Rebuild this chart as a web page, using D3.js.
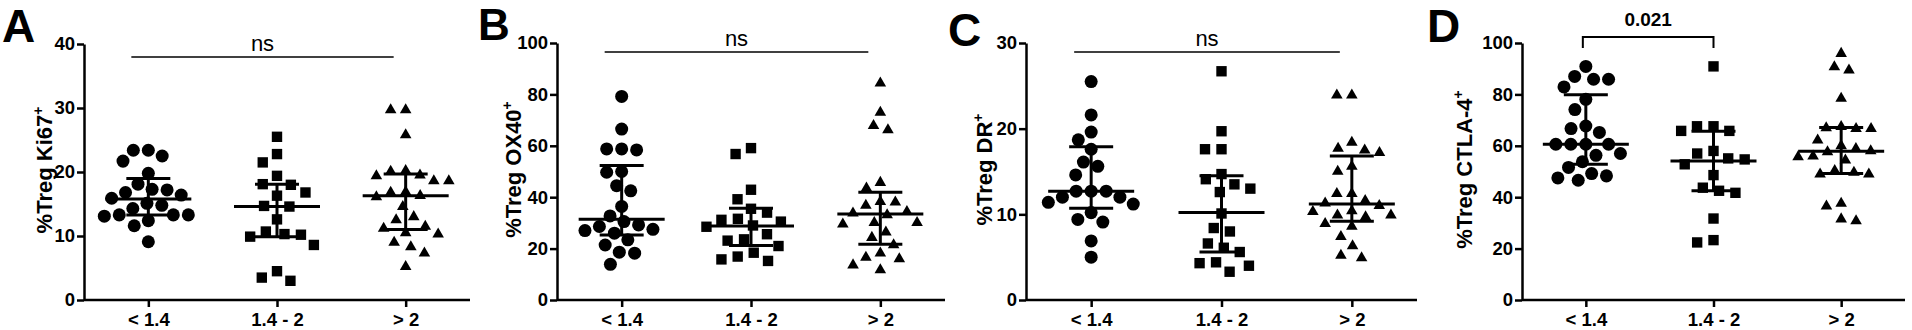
<!DOCTYPE html>
<html>
<head>
<meta charset="utf-8">
<script src="https://cdn.jsdelivr.net/npm/d3@7"></script>
<style>
  body { margin: 0; background: #fff; }
  svg { display: block; font-family: "Liberation Sans", Arial, sans-serif; }
</style>
</head>
<body>
<svg id="chart" width="1912" height="330"></svg>
<script>
let groups = ["< 1.4", "1.4 - 2", "> 2"];

// values, one array per group
let ki67_low  = [23.4, 23.4, 22.5, 21.7, 19.8, 18.1, 17.2, 17.3, 16.8, 16.4, 15.1, 14.8, 15.9, 14.3, 13.3, 13.1, 12.4, 13.3, 13.3, 11.6, 9.1];
let ki67_mid  = [25.5, 22.8, 21.5, 19.4, 18.1, 18.0, 16.8, 16.3, 14.6, 14.7, 12.6, 9.9, 10.2, 10.7, 10.3, 8.6, 4.5, 3.5, 3.0];
let ki67_high = [29.7, 29.7, 25.8, 19.4, 18.6, 18.6, 20.1, 20.2, 19.5, 16.8, 16.1, 16.9, 16.3, 14.6, 13.0, 12.5, 11.5, 11.2, 10.3, 10.5, 9.0, 8.3, 7.3, 5.2];

let ox40_low  = [79.2, 66.5, 58.4, 58.8, 58.8, 50.0, 49.7, 44.5, 42.5, 36.4, 32.7, 29.2, 30.5, 28.6, 27.0, 27.5, 26.0, 23.4, 21.4, 18.6, 18.2, 13.9];
let ox40_mid  = [59.1, 56.8, 42.9, 39.2, 35.5, 34.0, 31.2, 31.6, 29.0, 30.5, 28.5, 25.6, 23.6, 23.1, 21.0, 18.4, 16.9, 15.8, 15.2];
let ox40_high = [84.4, 73.0, 66.2, 67.8, 45.7, 43.5, 38.1, 38.3, 36.8, 34.4, 33.1, 33.8, 29.5, 30.1, 30.1, 26.4, 24.3, 21.4, 16.6, 18.2, 16.0, 13.6, 11.7];

let dr_low  = [25.5, 21.6, 19.6, 18.7, 17.6, 16.1, 15.6, 14.6, 12.7, 12.7, 12.7, 12.0, 12.0, 11.2, 11.4, 10.2, 9.4, 9.1, 6.9, 5.0];
let dr_mid  = [26.7, 19.7, 17.6, 17.6, 14.1, 14.7, 13.5, 13.0, 12.6, 10.1, 8.4, 8.0, 6.6, 6.1, 5.6, 4.4, 4.3, 4.0, 3.3];
let dr_high = [23.9, 23.9, 18.4, 17.5, 17.7, 17.2, 15.6, 15.0, 12.4, 12.4, 11.6, 11.0, 11.3, 10.3, 10.4, 9.9, 9.9, 9.7, 8.6, 8.9, 7.4, 6.3, 5.2, 4.9];

let ctla4_low  = [90.9, 85.9, 87.0, 85.9, 82.9, 78.1, 74.1, 66.7, 67.7, 65.2, 60.6, 60.6, 60.6, 60.6, 57.0, 56.3, 53.8, 51.6, 49.2, 48.3, 47.5, 46.6];
let ctla4_mid  = [90.9, 67.6, 67.6, 65.8, 65.8, 58.0, 57.0, 52.8, 55.1, 54.7, 48.6, 43.7, 42.5, 41.7, 31.7, 23.3, 22.4];
let ctla4_high = [95.9, 90.7, 89.4, 78.4, 66.7, 66.7, 67.4, 67.0, 62.2, 58.9, 57.6, 60.0, 58.0, 55.7, 56.0, 54.4, 49.0, 49.0, 50.3, 49.6, 36.5, 37.6, 31.5, 30.8];

// median, lower, upper of the error bars as drawn
let ki67_bars  = [[15.8, 13.3, 19.0], [14.6, 9.9, 18.1], [16.3, 11.0, 19.7]];
let ox40_bars  = [[31.4, 25.3, 52.3], [28.8, 21.2, 35.7], [33.5, 21.7, 41.9]];
let dr_bars    = [[12.7, 10.7, 17.9], [10.2, 5.6, 14.5], [11.2, 9.2, 16.8]];
let ctla4_bars = [[60.6, 52.8, 79.9], [54.1, 42.5, 65.7], [57.9, 49.2, 67.1]];

let ki67_ticks = [0, 10, 20, 30, 40];
let ox40_ticks = [0, 20, 40, 60, 80, 100];
let dr_ticks = [0, 10, 20, 30];
let ctla4_ticks = [0, 20, 40, 60, 80, 100];

let panels = [
  {letter: "A", title: "%Treg Ki67", values: [ki67_low, ki67_mid, ki67_high], bars: ki67_bars, ticks: ki67_ticks, sig: "ns"},
  {letter: "B", title: "%Treg OX40", values: [ox40_low, ox40_mid, ox40_high], bars: ox40_bars, ticks: ox40_ticks, sig: "ns"},
  {letter: "C", title: "%Treg DR", values: [dr_low, dr_mid, dr_high], bars: dr_bars, ticks: dr_ticks, sig: "ns"},
  {letter: "D", title: "%Treg CTLA-4", values: [ctla4_low, ctla4_mid, ctla4_high], bars: ctla4_bars, ticks: ctla4_ticks, sig: "0.021"}
];

// page layout per panel
let layout = [
  {ax: 84, ex: 470, top: 44, lx: 2, ly: 42, tx: 52, sy: 57},
  {ax: 557, ex: 945, top: 43, lx: 478, ly: 40, tx: 521, sy: 52},
  {ax: 1026, ex: 1417, top: 43, lx: 948, ly: 46, tx: 992, sy: 52},
  {ax: 1522, ex: 1905, top: 43, lx: 1427, ly: 42, tx: 1472, sy: 37}
];

let bottom = 300;
let shapes = [
  {type: d3.symbolCircle, size: 133, d: 15},
  {type: d3.symbolSquare, size: 108, d: 16.5},
  {type: d3.symbolTriangle, size: 58, d: 15}
];

// simple beeswarm: place each point at the smallest offset free of overlaps
function swarm(vals, y, d) {
  let placed = [];
  return vals.slice().sort((a, b) => b - a).map(v => {
    let py = y(v);
    let near = placed.filter(q => Math.abs(q.y - py) < d);
    let cands = [0];
    near.forEach(q => {
      let dx = Math.sqrt(d * d - (q.y - py) ** 2);
      cands.push(q.x - dx, q.x + dx);
    });
    cands.sort((a, b) => Math.abs(a) - Math.abs(b));
    let x = cands.find(c => near.every(q => (q.x - c) ** 2 + (q.y - py) ** 2 >= d * d - 0.01));
    let p = {x: x, y: py};
    placed.push(p);
    return p;
  });
}

let svg = d3.select("#chart");

panels.forEach((p, i) => {
  let L = layout[i];
  let x = d3.scalePoint().domain(groups).range([L.ax, L.ex]).padding(0.5);
  let y = d3.scaleLinear().domain([0, d3.max(p.ticks)]).range([bottom, L.top]);
  let g = svg.append("g");

  g.append("text")
    .attr("x", L.lx).attr("y", L.ly)
    .attr("font-size", i == 1 ? 44 : 46).attr("font-weight", "bold")
    .text(p.letter);

  let yAxis = g.append("g")
    .attr("transform", `translate(${L.ax},0)`)
    .call(d3.axisLeft(y).tickValues(p.ticks).tickSize(7).tickSizeOuter(0).tickPadding(2));
  let xAxis = g.append("g")
    .attr("transform", `translate(0,${bottom})`)
    .call(d3.axisBottom(x).tickSize(7).tickSizeOuter(0).tickPadding(6));
  xAxis.select(".domain").attr("d", `M${L.ax},0H${L.ex}`);
  [yAxis, xAxis].forEach(a => {
    a.attr("font-family", null).attr("font-size", null);
    a.selectAll("path, line").attr("stroke", "#000").attr("stroke-width", 2.5);
    a.selectAll("text")
      .attr("fill", "#000")
      .style("font-size", "18.5px")
      .style("font-weight", "bold");
  });

  let cy = (L.top + bottom) / 2 - 2;
  let title = g.append("text")
    .attr("transform", `translate(${L.tx},${cy}) rotate(-90)`)
    .attr("text-anchor", "middle")
    .attr("font-size", 22).attr("font-weight", "bold");
  title.append("tspan").text(p.title);
  title.append("tspan").attr("dy", -9).attr("font-size", 14).text("+");

  p.values.forEach((vals, k) => {
    let s = shapes[k];
    let cx = x(groups[k]);
    g.append("g").selectAll("path")
      .data(swarm(vals, y, s.d)).enter()
      .append("path")
      .attr("d", d3.symbol().type(s.type).size(s.size))
      .attr("transform", d => `translate(${cx + d.x},${d.y})`)
      .attr("fill", "#000");

    let [med, lo, hi] = p.bars[k];
    let bar = g.append("g").attr("stroke", "#000").attr("stroke-width", 3);
    bar.append("line").attr("x1", cx).attr("x2", cx).attr("y1", y(lo)).attr("y2", y(hi));
    bar.append("line").attr("x1", cx - 22).attr("x2", cx + 22).attr("y1", y(lo)).attr("y2", y(lo));
    bar.append("line").attr("x1", cx - 22).attr("x2", cx + 22).attr("y1", y(hi)).attr("y2", y(hi));
    bar.append("line").attr("x1", cx - 43).attr("x2", cx + 43).attr("y1", y(med)).attr("y2", y(med));
  });

  if (p.sig == "ns") {
    let x0 = x(groups[0]) - 17, x1 = x(groups[2]) - 12;
    g.append("line")
      .attr("x1", x0).attr("x2", x1).attr("y1", L.sy).attr("y2", L.sy)
      .attr("stroke", "#000").attr("stroke-width", 1.5);
    g.append("text")
      .attr("x", (x0 + x1) / 2).attr("y", L.sy - 6)
      .attr("text-anchor", "middle").attr("font-size", 22)
      .text(p.sig);
  } else {
    let x0 = x(groups[0]) - 3, x1 = x(groups[1]);
    g.append("path")
      .attr("d", `M${x0},${L.sy + 11}V${L.sy}H${x1}V${L.sy + 11}`)
      .attr("fill", "none").attr("stroke", "#000").attr("stroke-width", 2);
    g.append("text")
      .attr("x", (x0 + x1) / 2).attr("y", L.sy - 11)
      .attr("text-anchor", "middle").attr("font-size", 19).attr("font-weight", "bold")
      .text(p.sig);
  }
});
</script>
</body>
</html>
